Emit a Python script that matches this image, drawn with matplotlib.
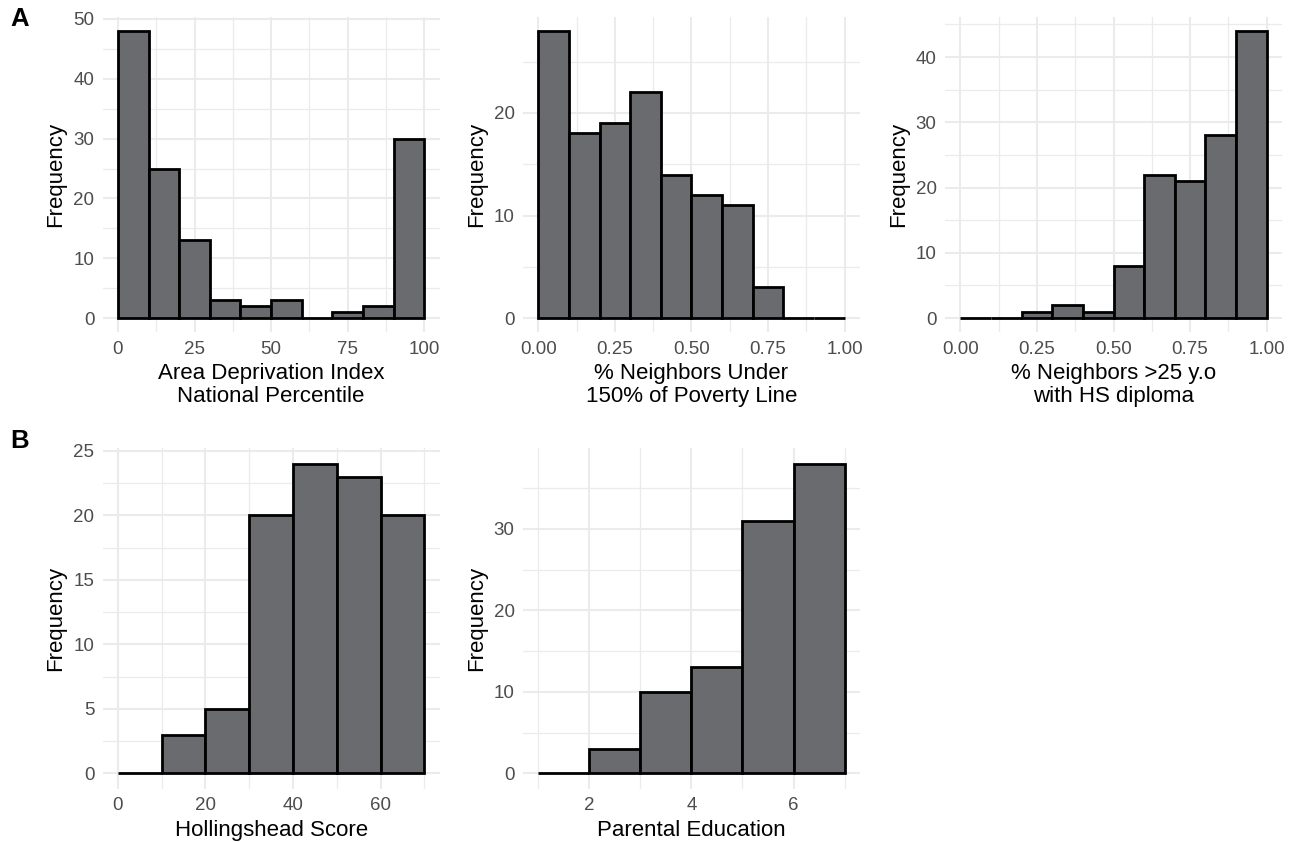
import numpy as np
import matplotlib.pyplot as plt
from matplotlib.ticker import FixedLocator

plt.rcParams["font.family"] = ["Liberation Sans", "DejaVu Sans"]

# histogram counts
adi_edges = np.arange(0, 101, 10)
adi_counts = [48, 25, 13, 3, 2, 3, 0, 1, 2, 30]

pov_edges = np.round(np.arange(0, 1.01, 0.1), 2)
pov_counts = [28, 18, 19, 22, 14, 12, 11, 3, 0, 0]

hs_edges = np.round(np.arange(0, 1.01, 0.1), 2)
hs_counts = [0, 0, 1, 2, 1, 8, 22, 21, 28, 44]

holl_edges = np.arange(0, 71, 10)
holl_counts = [0, 3, 5, 20, 24, 23, 20]

edu_edges = np.arange(1, 8, 1)
edu_counts = [0, 3, 10, 13, 31, 38]

FILL = "#6a6b6f"
GRID = "#ebebeb"
TICK_COLOR = "#4d4d4d"


def hist_panel(ax, edges, counts, xlabel, xmaj, xmin, ymaj, ymin, xfmt="{:g}"):
    edges = np.asarray(edges, dtype=float)
    counts = np.asarray(counts, dtype=float)
    ax.bar(edges[:-1], counts, width=np.diff(edges), align="edge",
           color=FILL, edgecolor="black", linewidth=2.0, zorder=3)

    lo, hi = edges[0], edges[-1]
    pad = 0.05 * (hi - lo)
    ax.set_xlim(lo - pad, hi + pad)
    ytop = counts.max()
    ax.set_ylim(-0.05 * ytop, ytop * 1.05)

    ax.xaxis.set_major_locator(FixedLocator(xmaj))
    ax.xaxis.set_minor_locator(FixedLocator(xmin))
    ax.yaxis.set_major_locator(FixedLocator(ymaj))
    ax.yaxis.set_minor_locator(FixedLocator(ymin))
    ax.set_xticklabels([xfmt.format(v) for v in xmaj])
    ax.set_yticklabels(["{:g}".format(v) for v in ymaj])

    ax.grid(True, which="major", color=GRID, linewidth=1.5, zorder=0)
    ax.grid(True, which="minor", color=GRID, linewidth=0.9, zorder=0)
    ax.set_axisbelow(True)
    for sp in ax.spines.values():
        sp.set_visible(False)
    ax.tick_params(which="both", length=0, pad=6, labelsize=13.5,
                   labelcolor=TICK_COLOR)
    ax.set_xlabel(xlabel, fontsize=16, labelpad=4, linespacing=1.12)
    ax.set_ylabel("Frequency", fontsize=16, labelpad=5)


fig = plt.figure(figsize=(12.96, 8.42), dpi=100)

top_b, top_h = 0.6052, 0.3751
bot_b, bot_h = 0.0632, 0.4043
w = 0.2600

ax1 = fig.add_axes([0.0792, top_b, w, top_h])
hist_panel(ax1, adi_edges, adi_counts,
           "Area Deprivation Index\nNational Percentile",
           [0, 25, 50, 75, 100], [12.5, 37.5, 62.5, 87.5],
           [0, 10, 20, 30, 40, 50], [5, 15, 25, 35, 45])

ax2 = fig.add_axes([0.4035, top_b, w, top_h])
hist_panel(ax2, pov_edges, pov_counts,
           "% Neighbors Under\n150% of Poverty Line",
           [0, 0.25, 0.5, 0.75, 1.0], [0.125, 0.375, 0.625, 0.875],
           [0, 10, 20], [5, 15, 25], xfmt="{:.2f}")

ax3 = fig.add_axes([0.7292, top_b, w, top_h])
hist_panel(ax3, hs_edges, hs_counts,
           "% Neighbors >25 y.o\nwith HS diploma",
           [0, 0.25, 0.5, 0.75, 1.0], [0.125, 0.375, 0.625, 0.875],
           [0, 10, 20, 30, 40], [5, 15, 25, 35, 45], xfmt="{:.2f}")

ax4 = fig.add_axes([0.0792, bot_b, w, bot_h])
hist_panel(ax4, holl_edges, holl_counts, "Hollingshead Score",
           [0, 20, 40, 60], [10, 30, 50, 70],
           [0, 5, 10, 15, 20, 25], [2.5, 7.5, 12.5, 17.5, 22.5])

ax5 = fig.add_axes([0.4035, bot_b, w, bot_h])
hist_panel(ax5, edu_edges, edu_counts, "Parental Education",
           [2, 4, 6], [1, 3, 5, 7],
           [0, 10, 20, 30], [5, 15, 25, 35])

fig.text(0.008, 0.977, "A", fontsize=18.5, fontweight="bold", va="center")
fig.text(0.008, 0.476, "B", fontsize=18.5, fontweight="bold", va="center")

fig.savefig("out.png", dpi=100)
